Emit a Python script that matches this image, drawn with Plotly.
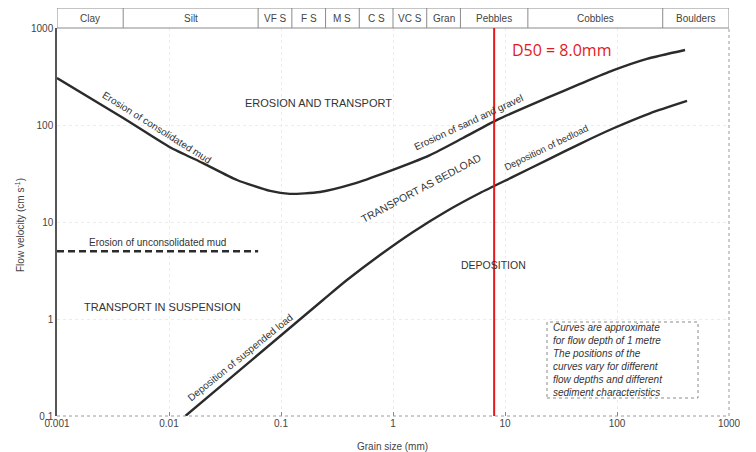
import math
import plotly.graph_objects as go

# ---------------- data ----------------
category_names = ["Clay", "Silt", "VF S", "F S", "M S", "C S", "VC S", "Gran", "Pebbles", "Cobbles", "Boulders"]
category_bounds_mm = [0.001, 0.0039, 0.0625, 0.125, 0.25, 0.5, 1, 2, 4, 16, 256, 1000]

erosion_x = [0.001, 0.0039, 0.0102, 0.0201, 0.0405, 0.08, 0.12, 0.223, 0.44, 0.88, 2.14, 4.22, 8.5, 23.7, 46.8, 92, 185, 405]
erosion_y = [305, 118, 59, 40.5, 27.1, 20.9, 19.5, 20.4, 24.7, 32.7, 49, 73.5, 113, 190, 265, 365, 480, 593]

deposition_x = [0.014, 0.237, 0.388, 0.766, 1.51, 3.03, 5.98, 12, 23.7, 46.8, 92, 197, 422]
deposition_y = [0.1, 1.57, 2.52, 4.57, 7.9, 13.0, 19.9, 29.5, 43.5, 64, 92, 132, 177]

unconsolidated_x = [0.001, 0.0625]
unconsolidated_y = [5, 5]

d50_mm = 8.0

x_tick_vals = [0.001, 0.01, 0.1, 1, 10, 100, 1000]
x_tick_text = ["0.001", "0.01", "0.1", "1", "10", "100", "1000"]
y_tick_vals = [0.1, 1, 10, 100, 1000]
y_tick_text = ["0.1", "1", "10", "100", "1000"]

# ---------------- layout geometry ----------------
OFF = 8  # default page body margin
W, H = 756 - OFF, 452 - OFF
ML, MR, MT, MB = 57 - OFF, 27, 28 - OFF, 36
PW = W - ML - MR
PH = H - MT - MB
FONT = "Liberation Sans, Arial, sans-serif"
INK = "#2b2b2b"

PLOT_L, PLOT_B = 57, 416  # page pixel positions of plot left / bottom


def px(xp):
    return (xp - PLOT_L) / PW


def py(yp):
    return (PLOT_B - yp) / PH


fig = go.Figure()

fig.add_trace(go.Scatter(x=erosion_x, y=erosion_y, mode="lines",
                         line=dict(color=INK, width=2.4, shape="spline", smoothing=0.6),
                         hoverinfo="skip", showlegend=False))
fig.add_trace(go.Scatter(x=deposition_x, y=deposition_y, mode="lines",
                         line=dict(color=INK, width=2.4, shape="spline", smoothing=0.6),
                         hoverinfo="skip", showlegend=False))
fig.add_trace(go.Scatter(x=unconsolidated_x, y=unconsolidated_y, mode="lines",
                         line=dict(color=INK, width=2.4, dash="7px,4px"),
                         hoverinfo="skip", showlegend=False))

shapes = []
header_h = 20 / PH
shapes.append(dict(type="rect", xref="x", yref="paper",
                   x0=category_bounds_mm[0], x1=category_bounds_mm[-1], y0=1, y1=1 + header_h,
                   line=dict(color="#8a8a8a", width=1)))
for b in category_bounds_mm[1:-1]:
    shapes.append(dict(type="line", xref="x", yref="paper", x0=b, x1=b, y0=1, y1=1 + header_h,
                       line=dict(color="#8a8a8a", width=1)))
annotations = []
for i, name in enumerate(category_names):
    c = (math.log10(category_bounds_mm[i]) + math.log10(category_bounds_mm[i + 1])) / 2
    annotations.append(dict(x=c, y=1 + header_h / 2, xref="x", yref="paper",
                            xanchor="center", yanchor="middle",
                            text=name, showarrow=False, font=dict(size=10, color="#444", family=FONT)))

shapes.append(dict(type="line", xref="paper", yref="paper", x0=0, x1=1, y0=0, y1=0,
                   line=dict(color="#9a9a9a", width=1, dash="dot")))
shapes.append(dict(type="line", xref="paper", yref="paper", x0=1, x1=1, y0=0, y1=1,
                   line=dict(color="#9a9a9a", width=1, dash="dot")))

shapes.append(dict(type="line", xref="x", yref="paper", x0=d50_mm, x1=d50_mm, y0=0, y1=1,
                   line=dict(color="#e3191c", width=2)))

shapes.append(dict(type="rect", xref="paper", yref="paper",
                   x0=px(547), x1=px(698), y0=py(398), y1=py(322),
                   line=dict(color="#8a8a8a", width=1, dash="dot")))

fig.update_layout(shapes=shapes)


def label(text, xp, yp, size=10, angle=0, color="#333"):
    annotations.append(dict(x=px(xp), y=py(yp), xref="paper", yref="paper", text=text,
                            xanchor="center", yanchor="middle",
                            showarrow=False, textangle=angle,
                            font=dict(size=size, color=color, family=FONT)))


label("EROSION AND TRANSPORT", 318, 103, size=11)
label("Erosion of consolidated mud", 157, 127, size=10, angle=32)
label("Erosion of sand and gravel", 468, 122, size=10, angle=-25)
label("TRANSPORT AS BEDLOAD", 421, 188, size=10.5, angle=-28)
label("Deposition of bedload", 546, 147, size=9.5, angle=-26)
label("DEPOSITION", 493, 265, size=10.5)
label("Erosion of unconsolidated mud", 157, 242, size=10)
label("TRANSPORT IN SUSPENSION", 162, 307, size=11)
label("Deposition of suspended load", 240, 357, size=10, angle=-39)

annotations.append(dict(x=px(551), y=py(360), xref="paper", yref="paper",
                        xanchor="left", yanchor="middle",
                        text="Curves are approximate<br>for flow depth of 1 metre<br>The positions of the"
                             "<br>curves vary for different<br>flow depths and different<br>sediment characteristics",
                        align="left", showarrow=False,
                        font=dict(size=10, color="#333", family=FONT, style="italic")))

annotations.append(dict(x=math.log10(d50_mm), y=py(50), xref="x", yref="paper",
                        xanchor="left", yanchor="middle",
                        xshift=16, text="D50 = 8.0mm", showarrow=False,
                        font=dict(size=16, color="#e3191c", family="Open Sans, sans-serif")))

annotations.append(dict(x=px(392), y=py(446), xref="paper", yref="paper",
                        xanchor="center", yanchor="middle",
                        text="Grain size (mm)", showarrow=False,
                        font=dict(size=10, color="#444", family=FONT)))
annotations.append(dict(x=px(20), y=py(225), xref="paper", yref="paper", textangle=-90,
                        xanchor="center", yanchor="middle",
                        text="Flow velocity (cm s<sup>-1</sup>)", showarrow=False,
                        font=dict(size=10, color="#444", family=FONT)))

fig.update_layout(
    width=W, height=H,
    margin=dict(l=ML, r=MR, t=MT, b=MB),
    paper_bgcolor="white", plot_bgcolor="white",
    annotations=annotations,
    showlegend=False,
    xaxis=dict(type="log", range=[-3, 3], tickvals=x_tick_vals, ticktext=x_tick_text,
               ticks="inside", ticklen=4, tickcolor="#888",
               tickfont=dict(size=10, color="#444", family=FONT),
               showgrid=True, gridcolor="#ececec", griddash="dot", zeroline=False, showline=False),
    yaxis=dict(type="log", range=[-1, 3], tickvals=y_tick_vals, ticktext=y_tick_text,
               ticks="", tickfont=dict(size=10, color="#444", family=FONT),
               showgrid=True, gridcolor="#ececec", griddash="dot", zeroline=False,
               showline=True, linecolor="#555", linewidth=1.5),
)

fig.write_html("out.html")
